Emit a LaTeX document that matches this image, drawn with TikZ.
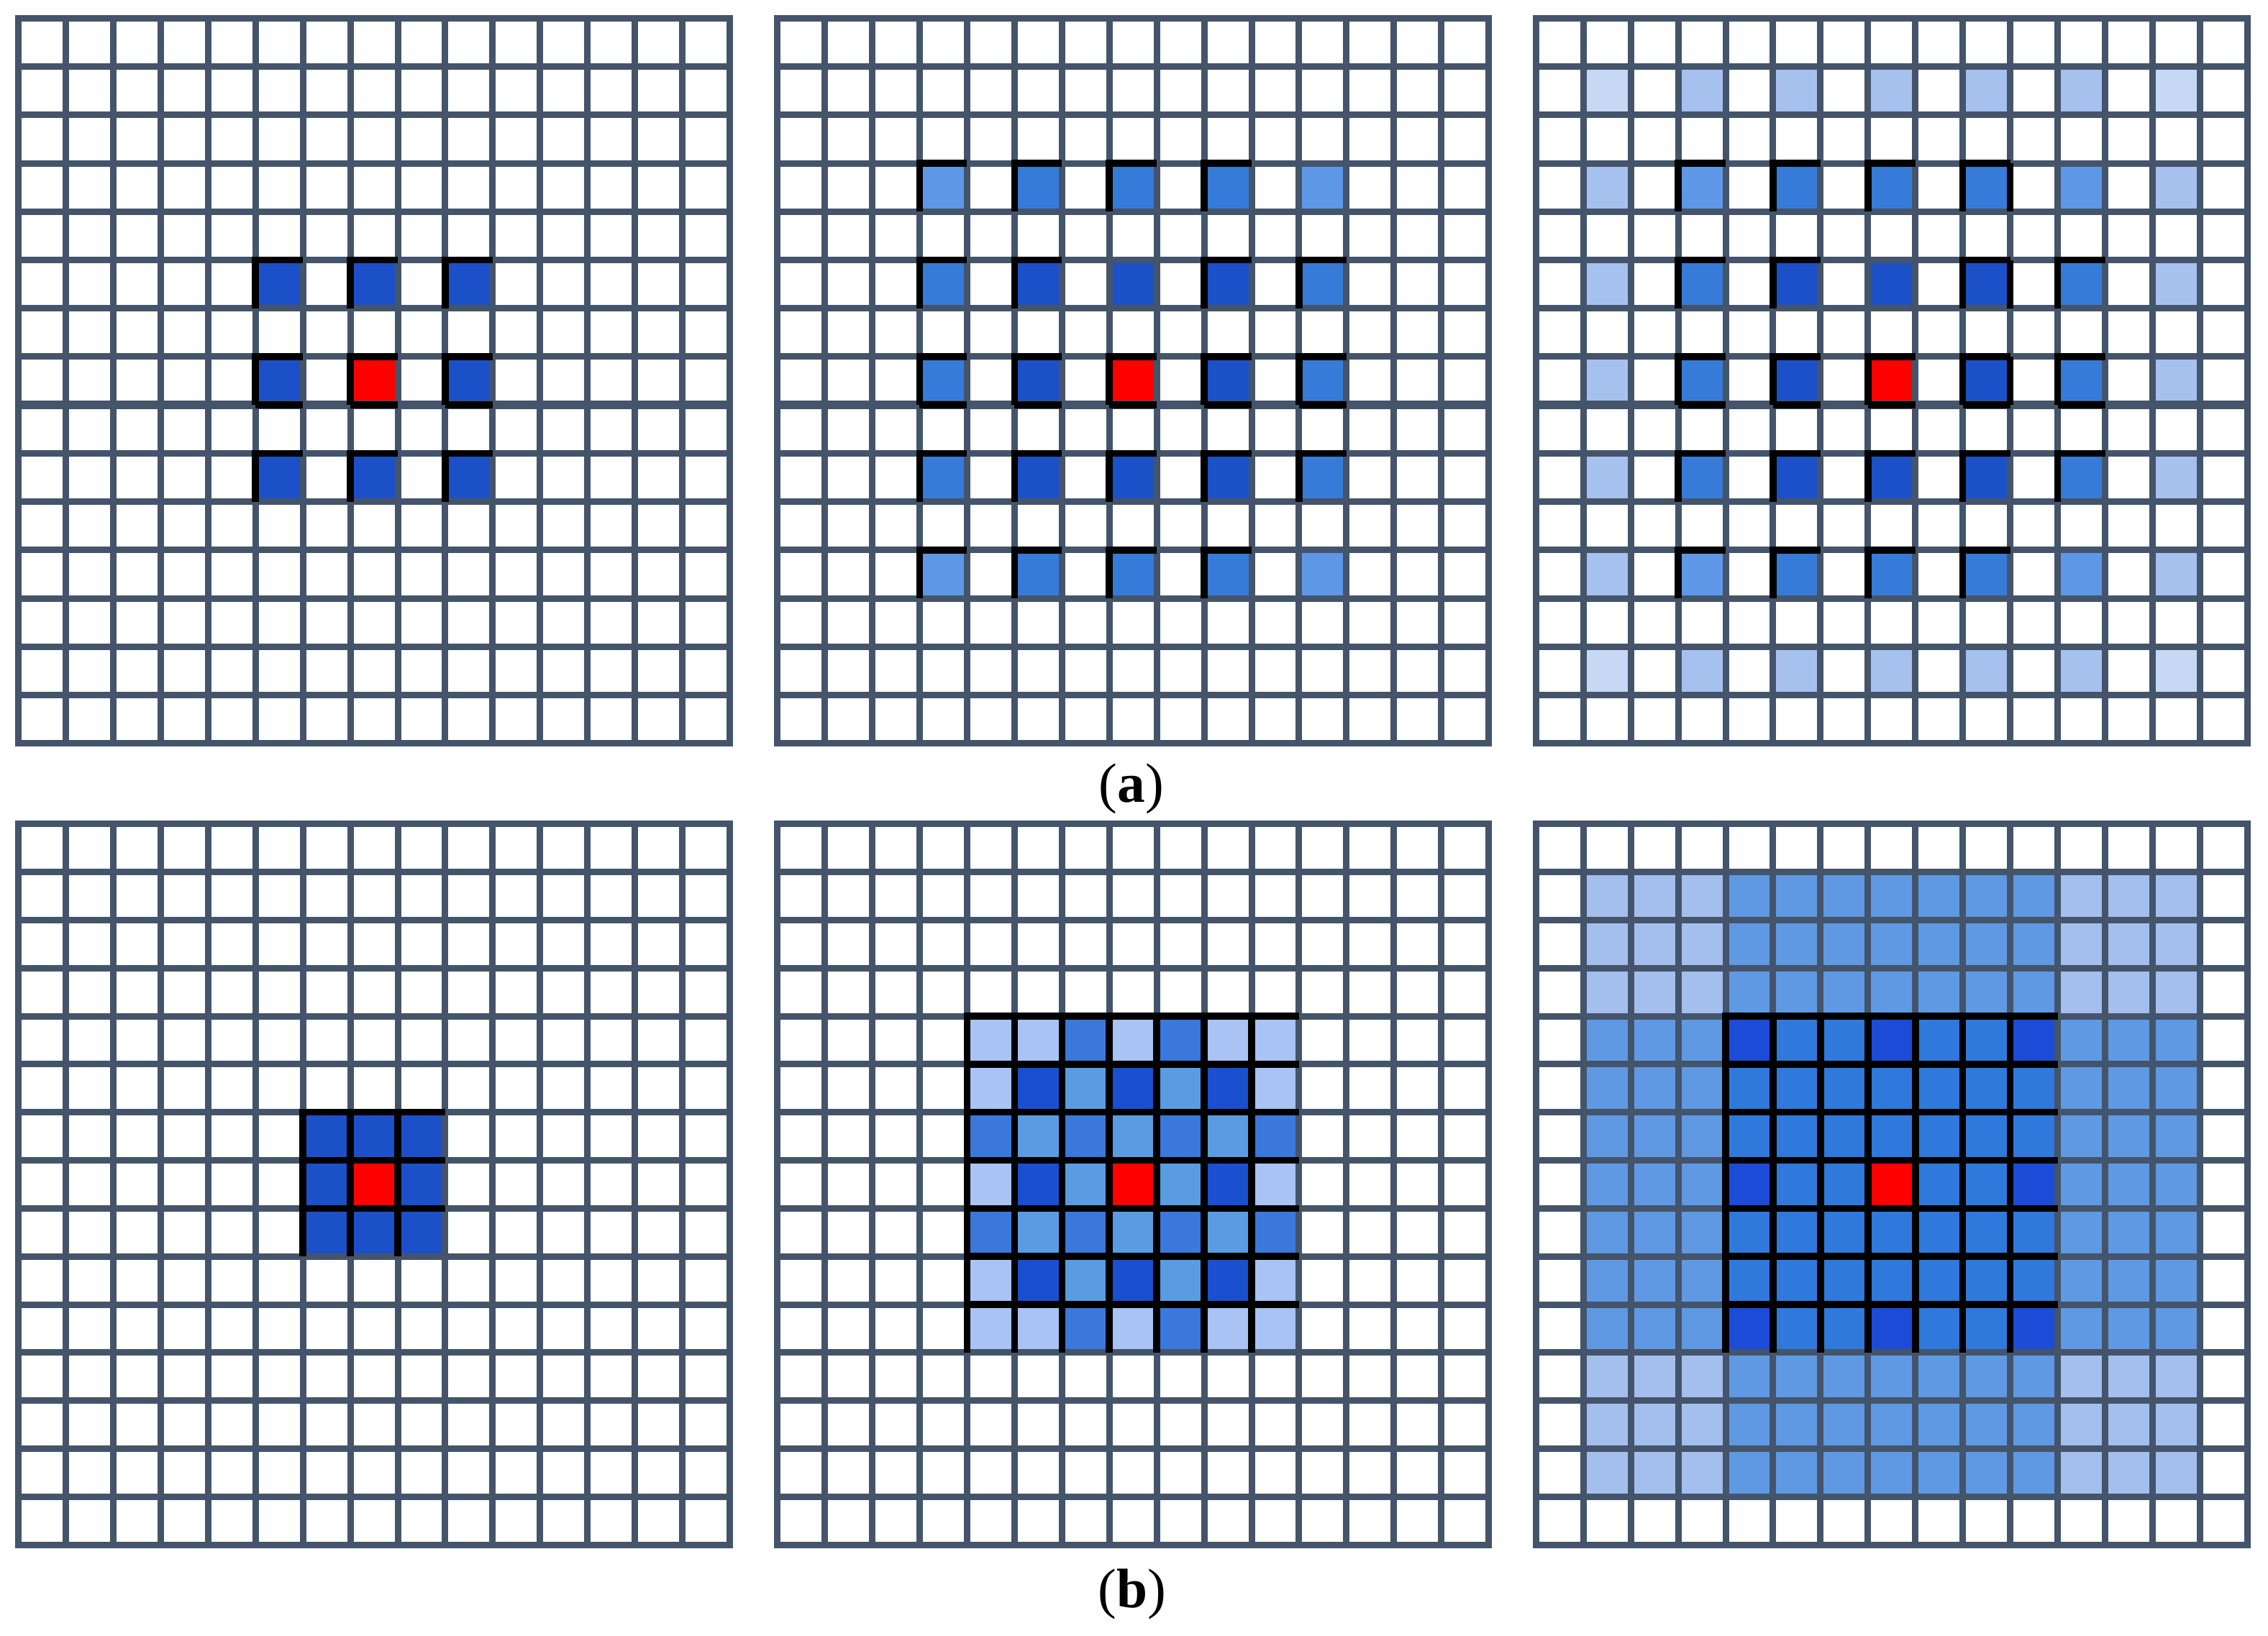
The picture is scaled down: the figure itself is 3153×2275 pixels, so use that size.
\documentclass[tikz,border=0pt]{standalone}
\usepackage{fontspec}
\setmainfont{Liberation Serif}
\definecolor{gridgrey}{HTML}{44546A}
\definecolor{aD}{HTML}{1C50C8}
\definecolor{aM}{HTML}{377BD9}
\definecolor{aML}{HTML}{5E97E6}
\definecolor{aL}{HTML}{A7C1EE}
\definecolor{aVL}{HTML}{C6D8F4}
\definecolor{bL}{HTML}{A8C3F4}
\definecolor{bM}{HTML}{3A78DC}
\definecolor{bD}{HTML}{1A4FD0}
\definecolor{bS}{HTML}{5A9CE2}
\definecolor{cL}{HTML}{A4BFEE}
\definecolor{cS}{HTML}{5F99E3}
\definecolor{cM}{HTML}{2F79DC}
\definecolor{cD}{HTML}{1C4BD8}
\definecolor{hotred}{HTML}{FF0000}
\tikzset{
  gridline/.style={draw=gridgrey, line width=0.09cm, line cap=rect},
  thickgridline/.style={draw=gridgrey, line width=0.115cm, line cap=butt},
  blackline/.style={draw=black, line width=0.095cm, line cap=butt, line join=miter},
  caption/.style={font=\fontsize{22}{26}\selectfont, inner sep=0pt, anchor=base},
}
\newcommand{\mycell}[3]{\fill[#3] (#1,#2) rectangle +(1,1);}
\newcommand{\mytl}[2]{\draw[blackline] (#1,#2+1) -- (#1,#2) -- (#1+1,#2);}
\newcommand{\mybot}[2]{\draw[blackline] (#1,#2+1) -- (#1+1,#2+1);}
\newcommand{\myright}[2]{\draw[blackline] (#1+1,#2) -- (#1+1,#2+1);}
\newcommand{\mygrid}{\foreach \k in {0,...,15}{\draw[gridline] (\k,0) -- (\k,15); \draw[gridline] (0,\k) -- (15,\k);}}
\newcommand{\mygridA}{\mygrid\draw[thickgridline] (0,8) -- (15,8);}
\begin{document}
\begin{tikzpicture}[x=0.01cm,y=-0.01cm]
\useasboundingbox (0,0) rectangle (3153,2275);
\fill[white] (0,0) rectangle (3153,2275);

% ---------- (a) left ----------
\begin{scope}[xshift=0.255cm, yshift=-0.255cm, x=0.659cm, y=-0.6717cm]
  \foreach \i/\j in {5/5,7/5,9/5,5/7,9/7,5/9,7/9,9/9} {\mycell{\i}{\j}{aD}}
  \mycell{7}{7}{hotred}
  \mygridA
  \foreach \i/\j in {5/5,7/5,9/5,5/7,7/7,9/7,5/9,7/9,9/9} {\mytl{\i}{\j}}
  \foreach \i in {5,7,9} {\mybot{\i}{7}}
\end{scope}

% ---------- (a) middle ----------
\begin{scope}[xshift=10.80cm, yshift=-0.255cm, x=0.659cm, y=-0.6717cm]
  \foreach \i/\j in {3/3,11/3,3/11,11/11} {\mycell{\i}{\j}{aML}}
  \foreach \i/\j in {5/3,7/3,9/3,3/5,11/5,3/7,11/7,3/9,11/9,5/11,7/11,9/11} {\mycell{\i}{\j}{aM}}
  \foreach \i/\j in {5/5,7/5,9/5,5/7,9/7,5/9,7/9,9/9} {\mycell{\i}{\j}{aD}}
  \mycell{7}{7}{hotred}
  \mygridA
  \foreach \i/\j in {3/3,5/3,7/3,9/3,3/5,5/5,9/5,11/5,3/7,5/7,7/7,9/7,11/7,3/9,5/9,7/9,9/9,11/9,3/11,5/11,7/11,9/11} {\mytl{\i}{\j}}
  \foreach \i in {3,5,7,9,11} {\mybot{\i}{7}}
\end{scope}

% ---------- (a) right ----------
\begin{scope}[xshift=21.34cm, yshift=-0.255cm, x=0.659cm, y=-0.6717cm]
  \foreach \i/\j in {1/1,13/1,1/13,13/13} {\mycell{\i}{\j}{aVL}}
  \foreach \i/\j in {3/1,5/1,7/1,9/1,11/1,3/13,5/13,7/13,9/13,11/13,1/3,1/5,1/7,1/9,1/11,13/3,13/5,13/7,13/9,13/11} {\mycell{\i}{\j}{aL}}
  \foreach \i/\j in {3/3,11/3,3/11,11/11} {\mycell{\i}{\j}{aML}}
  \foreach \i/\j in {5/3,7/3,9/3,3/5,11/5,3/7,11/7,3/9,11/9,5/11,7/11,9/11} {\mycell{\i}{\j}{aM}}
  \foreach \i/\j in {5/5,7/5,9/5,5/7,9/7,5/9,7/9,9/9} {\mycell{\i}{\j}{aD}}
  \mycell{7}{7}{hotred}
  \mygridA
  \foreach \i/\j in {3/3,5/3,7/3,9/3,3/5,5/5,9/5,11/5,3/7,5/7,7/7,9/7,11/7,3/9,5/9,7/9,9/9,11/9,3/11,5/11,7/11,9/11} {\mytl{\i}{\j}}
  \foreach \i in {3,5,7,9,11} {\mybot{\i}{7}}
  \foreach \j in {3,5,7} {\myright{9}{\j}}
\end{scope}

\node[caption] (capa) at (1573,1115) {(\textbf{a})};

% ---------- (b) left ----------
\begin{scope}[xshift=0.255cm, yshift=-11.45cm, x=0.659cm, y=-0.668cm]
  \fill[aD] (6,6) rectangle (9,9);
  \mycell{7}{7}{hotred}
  \mygrid
  \foreach \i in {6,7,8} {\foreach \j in {6,7,8} {\mytl{\i}{\j}}}
\end{scope}

% ---------- (b) middle ----------
\begin{scope}[xshift=10.80cm, yshift=-11.45cm, x=0.659cm, y=-0.668cm]
  \fill[bL] (4,4) rectangle (11,11);
  \foreach \i/\j in {6/4,8/4,4/6,6/6,8/6,10/6,4/8,6/8,8/8,10/8,6/10,8/10} {\mycell{\i}{\j}{bM}}
  \foreach \i/\j in {5/5,7/5,9/5,5/7,9/7,5/9,7/9,9/9} {\mycell{\i}{\j}{bD}}
  \foreach \i/\j in {6/5,8/5,5/6,7/6,9/6,6/7,8/7,5/8,7/8,9/8,6/9,8/9} {\mycell{\i}{\j}{bS}}
  \mycell{7}{7}{hotred}
  \mygrid
  \foreach \i in {4,...,10} {\foreach \j in {4,...,10} {\mytl{\i}{\j}}}
\end{scope}

% ---------- (b) right ----------
\begin{scope}[xshift=21.34cm, yshift=-11.45cm, x=0.659cm, y=-0.668cm]
  \fill[cL] (1,1) rectangle (14,14);
  \fill[cS] (4,1) rectangle (11,14);
  \fill[cS] (1,4) rectangle (14,11);
  \fill[cM] (4,4) rectangle (11,11);
  \foreach \i/\j in {4/4,7/4,10/4,4/7,10/7,4/10,7/10,10/10} {\mycell{\i}{\j}{cD}}
  \mycell{7}{7}{hotred}
  \mygrid
  \foreach \i in {4,...,10} {\foreach \j in {4,...,10} {\mytl{\i}{\j}}}
\end{scope}

\node[caption] (capb) at (1574,2235) {(\textbf{b})};
\end{tikzpicture}
\end{document}
